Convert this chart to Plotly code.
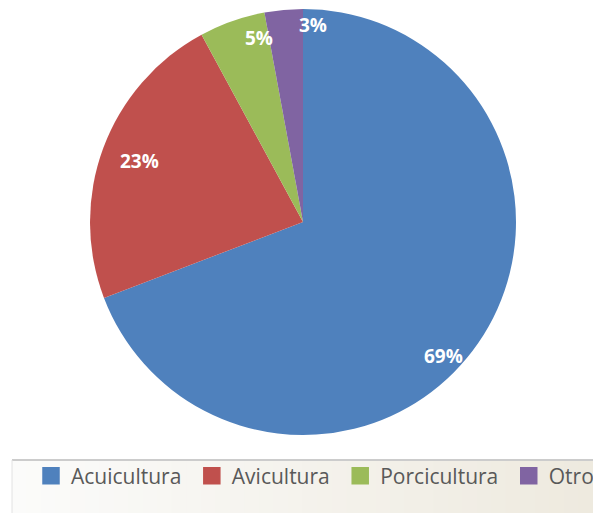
import math
import plotly.graph_objects as go

# ---- data ----
categories = ["Acuicultura", "Avicultura", "Porcicultura", "Otro"]
values = [69.2, 22.9, 5.0, 2.9]
colors = ["#4F81BD", "#C0504D", "#9BBB59", "#8064A2"]

# ---- layout constants ----
W, H = 593, 513
CX, CY, R = 303, 222, 213  # pie centre / radius in px (screen coords)
label_r = [0.91, 0.82, 0.89, 0.925]      # label distance (fraction of radius)
label_nudge = [9, 0, 6, 8]               # angular nudge of labels in degrees
legend_pad = "\u00a0"                     # extra spacing after legend text

fig = go.Figure()

fig.add_trace(go.Pie(
    labels=categories,
    values=values,
    marker=dict(colors=colors, line=dict(width=0)),
    sort=False,
    direction="clockwise",
    rotation=0,
    textinfo="none",
    hoverinfo="label+percent",
    showlegend=False,
    domain=dict(x=[(CX - R) / W, (CX + R) / W],
                y=[(H - CY - R) / H, (H - CY + R) / H]),
))

# legend entries (square markers like the original)
for cat, col in zip(categories, colors):
    fig.add_trace(go.Scatter(
        x=[None], y=[None], mode="markers", name=cat + legend_pad,
        marker=dict(symbol="square", size=16, color=col,
                    line=dict(color=col, width=1.5)),
        showlegend=True, hoverinfo="skip",
    ))

# percentage labels computed from the data
total = sum(values)
cum = 0.0
annotations = []
for i, v in enumerate(values):
    mid = (cum + v / 2) / total * 360 + label_nudge[i]
    cum += v
    th = math.radians(mid)
    px = CX + label_r[i] * R * math.sin(th)
    py = CY - label_r[i] * R * math.cos(th)
    annotations.append(dict(
        x=px / W, y=1 - py / H, xref="paper", yref="paper",
        text=f"<b>{round(v / total * 100)}%</b>", showarrow=False,
        font=dict(family="Open Sans", size=19, color="white"),
        xanchor="center", yanchor="middle",
    ))

# legend box with horizontal gradient
shapes = []
n = 40
x_left, x_right = 12 / W, 1.0
y_bot, y_top = 0.0, (H - 460) / H
c0 = (251, 251, 250)
c1 = (238, 234, 223)
for k in range(n):
    t = k / (n - 1)
    c = tuple(int(round(c0[j] + (c1[j] - c0[j]) * t)) for j in range(3))
    xa = x_left + (x_right - x_left) * k / n
    xb = x_left + (x_right - x_left) * (k + 1) / n + 0.002
    shapes.append(dict(type="rect", xref="paper", yref="paper",
                       x0=xa, x1=xb, y0=y_bot - 0.01, y1=y_top,
                       fillcolor=f"rgb{c}", line=dict(width=0), layer="below"))
shapes.append(dict(type="line", xref="paper", yref="paper",
                   x0=x_left, x1=1.01, y0=y_top, y1=y_top,
                   line=dict(color="#CCCCCC", width=2), layer="below"))
shapes.append(dict(type="line", xref="paper", yref="paper",
                   x0=x_left, x1=x_left, y0=-0.01, y1=y_top,
                   line=dict(color="#E2E2E2", width=1), layer="below"))

fig.update_layout(
    width=W, height=H,
    margin=dict(l=0, r=0, t=0, b=0, autoexpand=False),
    paper_bgcolor="white",
    plot_bgcolor="rgba(0,0,0,0)",
    xaxis=dict(visible=False),
    yaxis=dict(visible=False),
    showlegend=True,
    legend=dict(
        orientation="h",
        x=31 / W, xanchor="left",
        y=1 - 476 / H, yanchor="middle",
        bgcolor="rgba(0,0,0,0)",
        font=dict(family="Open Sans", size=21, color="#595959"),
        itemsizing="trace",
        itemclick=False, itemdoubleclick=False,
    ),
    annotations=annotations,
    shapes=shapes,
)

fig.write_html("out.html")
